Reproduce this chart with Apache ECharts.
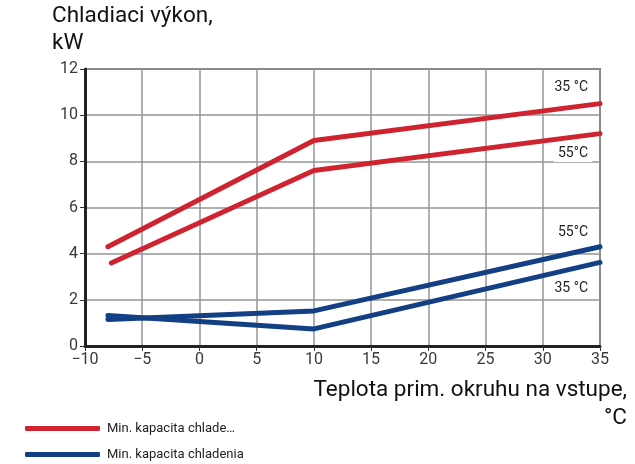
<!DOCTYPE html>
<html>
<head>
<meta charset="utf-8">
<script src="https://cdn.jsdelivr.net/npm/echarts@6/dist/echarts.min.js"></script>
<style>
  html, body { margin: 0; padding: 0; background: #fff; }
  #chart { width: 635px; height: 464px; }
</style>
</head>
<body>
<div id="chart"></div>
<script>
// Inlet brine temperature (°C) vs. minimum cooling capacity (kW)
const xTicks = [-10, -5, 0, 5, 10, 15, 20, 25, 30, 35];
const yTicks = [0, 2, 4, 6, 8, 10, 12];

const red35 = [[-8, 4.3], [10, 8.9], [35, 10.5]];
const red55 = [[-7.7, 3.6], [10, 7.6], [35, 9.2]];
const blue55 = [[-8, 1.15], [10, 1.52], [35, 4.3]];
const blue35 = [[-8, 1.32], [10, 0.74], [35, 3.62]];

const redName = 'Min. kapacita chlade…';
const blueName = 'Min. kapacita chladenia';

// Curve labels: [text, x, y] in data units (right edge, vertical centre)
const curveLabels = [
  ['35 °C', 34.3, 11.18],
  ['55°C', 34.3, 8.32],
  ['55°C', 34.3, 4.9],
  ['35 °C', 34.3, 2.51]
];

const RED = '#cf2330';
const BLUE = '#133f84';
const FONT = 'Roboto, "Open Sans", sans-serif';

const chart = echarts.init(document.getElementById('chart'), null, { renderer: 'canvas' });

function lineSeries(name, data, color) {
  return {
    name, type: 'line', data, symbol: 'none', smooth: false,
    lineStyle: { color, width: 5, cap: 'round', join: 'round' },
    itemStyle: { color },
    z: 5
  };
}

function legendFor(name, top) {
  return {
    orient: 'vertical', left: 20, top,
    itemWidth: 75, itemHeight: 5,
    icon: 'roundRect',
    textStyle: { color: '#222', fontSize: 13, fontFamily: FONT, padding: [0, 0, 0, 2] },
    data: [name]
  };
}

function titleText(text, pos) {
  return Object.assign({ type: 'text',
    style: { text, fontSize: 22.5, fontFamily: FONT, fill: '#111' } }, pos);
}

chart.setOption({
  animation: false,
  grid: {
    left: 85, right: 35, top: 69, bottom: 118,
    show: true, borderColor: '#6b6b6b', borderWidth: 2, backgroundColor: 'transparent'
  },
  xAxis: {
    type: 'value', min: -10, max: 35, interval: 5,
    axisLine: { show: true, onZero: false, lineStyle: { color: '#222', width: 3 } },
    axisTick: { show: true, length: 5, lineStyle: { color: '#333', width: 1 } },
    axisLabel: { color: '#3a3a3a', fontSize: 16, fontFamily: FONT, margin: 6,
      formatter: v => xTicks.includes(v) ? String(v).replace('-', '−') : '' },
    splitLine: { show: true, lineStyle: { color: '#959595', width: 1.5 } }
  },
  yAxis: {
    type: 'value', min: 0, max: 12, interval: 2,
    axisLine: { show: true, onZero: false, lineStyle: { color: '#222', width: 3 } },
    axisTick: { show: true, length: 5, lineStyle: { color: '#333', width: 1 } },
    axisLabel: { color: '#3a3a3a', fontSize: 16, fontFamily: FONT, margin: 7,
      formatter: v => yTicks.includes(v) ? String(v) : '' },
    splitLine: { show: true, lineStyle: { color: '#959595', width: 1.5 } }
  },
  legend: [legendFor(redName, 417), legendFor(blueName, 443)],
  series: [
    lineSeries(redName, red35, RED),
    lineSeries(redName, red55, RED),
    lineSeries(blueName, blue55, BLUE),
    lineSeries(blueName, blue35, BLUE)
  ],
  graphic: [
    titleText('Chladiaci výkon,', { left: 52, top: 5 }),
    titleText('kW', { left: 52, top: 32 }),
    titleText('Teplota prim. okruhu na vstupe,', { right: 8, top: 379 }),
    titleText('°C', { right: 8, top: 407 })
  ]
});

// Place curve labels through the chart's own coordinate system
const labelGraphics = curveLabels.map(([text, x, y], i) => {
  const p = chart.convertToPixel({ gridIndex: 0 }, [x, y]);
  return {
    id: 'curveLabel' + i, type: 'text', x: p[0], y: p[1], z: 10,
    style: {
      text, fontSize: 14, fontFamily: FONT, fill: '#222',
      align: 'right', verticalAlign: 'middle',
      backgroundColor: '#fff', padding: [1, 4]
    }
  };
});
chart.setOption({ graphic: labelGraphics });
</script>
</body>
</html>
